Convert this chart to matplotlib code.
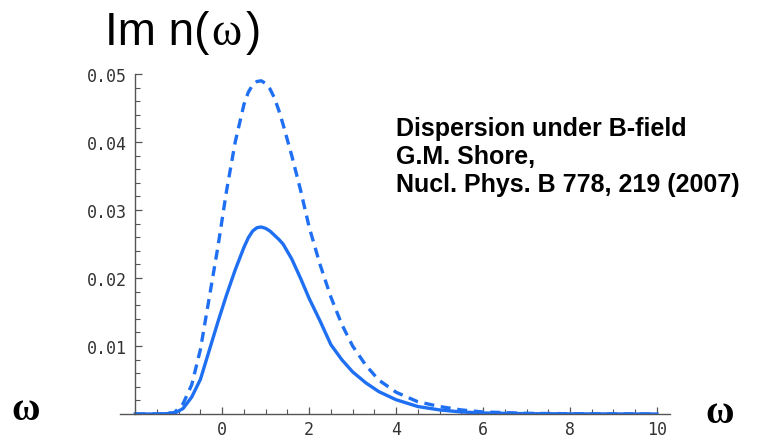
# Im n(omega) under a B-field (after G.M. Shore, NPB 778, 219 (2007))
import matplotlib
matplotlib.use("agg")
import matplotlib.pyplot as plt
from matplotlib.ticker import MultipleLocator


omega = [-2, -1.5, -1.1, -0.9, -0.7, -0.5, -0.3, -0.1, 0.1, 0.3, 0.5, 0.6,
         0.7, 0.8, 0.9, 1.0, 1.1, 1.2, 1.3, 1.4, 1.6, 1.8, 2.0, 2.25, 2.5,
         2.75, 3.0, 3.3, 3.6, 4.0, 4.5, 5.0, 5.5, 6.0, 7, 8, 9, 10]
im_n_solid = [0, 0, 0.0001, 0.0008, 0.0025, 0.0051, 0.0093, 0.0135, 0.0175,
              0.0212, 0.0245, 0.0259, 0.0269, 0.0274, 0.0275, 0.0273, 0.0269,
              0.0263, 0.0257, 0.0250, 0.0228, 0.0200, 0.0170, 0.0137, 0.0102,
              0.0080, 0.0062, 0.0046, 0.0033, 0.0021, 0.0011, 0.0006, 0.0003,
              0.00015, 0.00005, 0.00002, 0.00001, 0]
im_n_dashed = [0, 0, 0.0002, 0.0015, 0.0043, 0.0095, 0.0170, 0.0245, 0.0328,
               0.0400, 0.0455, 0.0473, 0.0484, 0.0489, 0.0490, 0.0486, 0.0478,
               0.0465, 0.0447, 0.0426, 0.0380, 0.0330, 0.0275, 0.0220, 0.0172,
               0.0132, 0.0100, 0.0072, 0.0050, 0.0032, 0.0018, 0.0011, 0.0006,
               0.0003, 0.0001, 0.00004, 0.00002, 0]
xticks = [0, 2, 4, 6, 8, 10]
yticks = [0.01, 0.02, 0.03, 0.04, 0.05]
ytick_labels = ["0.01", "0.02", "0.03", "0.04", "0.05"]

W, H = 758, 439
blue = "#1f6ff2"
axis_col = "#555555"

fig = plt.figure(figsize=(W / 100, H / 100), dpi=100)
ax = fig.add_axes([120 / W, 1 - 415 / H, 550 / W, (415 - 71.6) / H])

ax.plot(omega, im_n_dashed, color=blue, lw=2.4, linestyle=(0, (3.0, 2.0)))
ax.plot(omega, im_n_solid, color=blue, lw=2.4)

ax.set_xlim(-2.35, 10.3)
ax.set_ylim(0, 0.0505)
for s in ["top", "right"]:
    ax.spines[s].set_visible(False)
ax.spines["left"].set_position(("data", -2))
ax.spines["left"].set_bounds(0, 0.05)
for s in ["left", "bottom"]:
    ax.spines[s].set_color(axis_col)
    ax.spines[s].set_linewidth(1.0)

ax.set_xticks(xticks)
ax.set_xticklabels([str(t) for t in xticks])
ax.set_yticks(yticks)
ax.set_yticklabels(ytick_labels)
ax.xaxis.set_minor_locator(MultipleLocator(0.5))
ax.yaxis.set_minor_locator(MultipleLocator(0.002))
ax.tick_params(which="major", direction="in", length=5, width=0.9,
               color=axis_col, labelcolor="#333333", labelsize=12)
ax.tick_params(axis="x", which="major", pad=4)
ax.tick_params(axis="y", which="major", pad=6)
ax.tick_params(which="minor", direction="in", length=3.5, width=0.8,
               color=axis_col)
for lab in ax.get_xticklabels() + ax.get_yticklabels():
    lab.set_fontfamily("DejaVu Sans Mono")

# title pieces: sans text with a serif omega
fig.text(105 / W, 1 - 45 / H, "Im n(", fontsize=33, family="Liberation Sans",
         va="baseline", ha="left")
fig.text(211 / W, 1 - 45 / H, "ω", fontsize=33, family="Liberation Serif",
         va="baseline", ha="left")
fig.text(246 / W, 1 - 45 / H, ")", fontsize=33, family="Liberation Sans",
         va="baseline", ha="left")

fig.text(26 / W, 1 - 411 / H, "ω", fontsize=28, family="Liberation Serif",
         weight="bold", ha="center", va="center")
fig.text(720 / W, 1 - 414 / H, "ω", fontsize=28, family="Liberation Serif",
         weight="bold", ha="center", va="center")

fig.text(396 / W, 1 - 192 / H,
         "Dispersion under B-field\nG.M. Shore,\nNucl. Phys. B 778, 219 (2007)",
         fontsize=18, family="Liberation Sans", weight="bold",
         ha="left", va="baseline", linespacing=1.2)

fig.savefig("out.png", dpi=100)
